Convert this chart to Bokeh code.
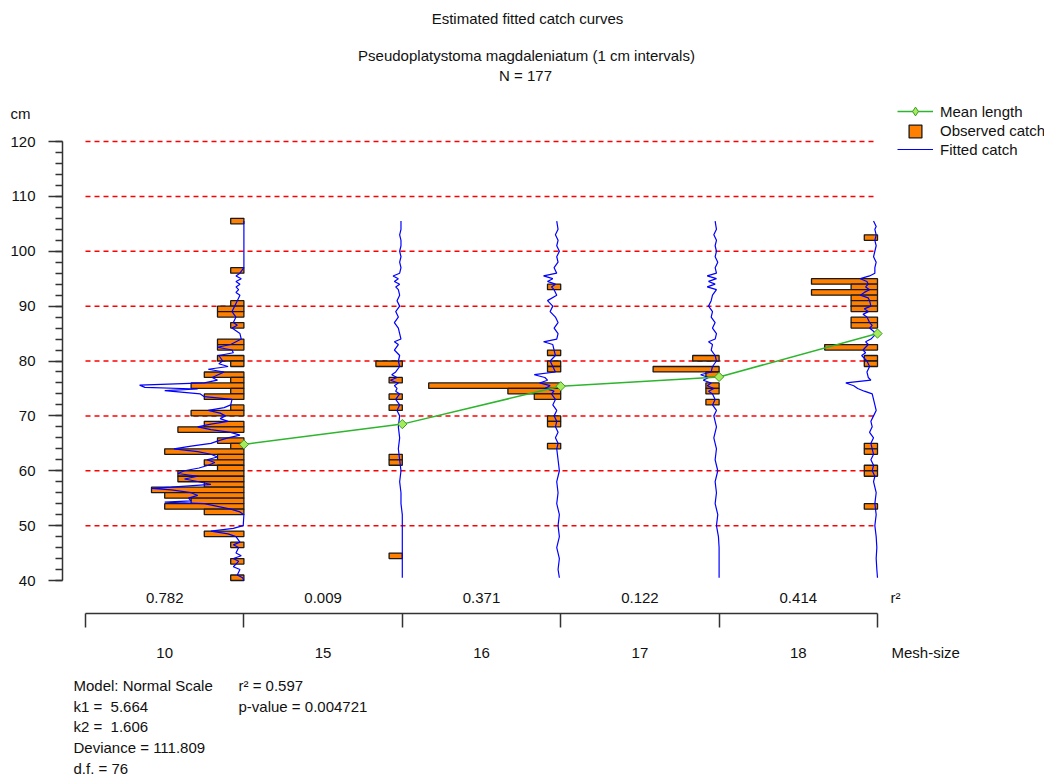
import numpy as np
import pandas as pd
from bokeh.plotting import figure
from bokeh.layouts import column
from bokeh.models import (ColumnDataSource, FixedTicker, Legend, LegendItem, Range1d)
from bokeh.core.properties import value
from bokeh.embed import file_html
from bokeh.resources import INLINE

# ---------------- data ----------------
mesh_sizes = [10, 15, 16, 17, 18]
r2_values = ["0.782", "0.009", "0.371", "0.122", "0.414"]
mean_lengths = [64.8, 68.5, 75.4, 77.1, 85.0]
grid_levels = [50, 60, 70, 80, 90, 100, 110, 120]
y_ticks = [40, 50, 60, 70, 80, 90, 100, 110, 120]

# observed catch: lower bound of 1 cm class and number of fish
obs10_len = [105, 96, 90, 89, 88, 86, 83, 82, 80, 79, 77, 76, 75, 74, 73, 71, 70, 68, 67,
             65, 64, 63, 62, 61, 60, 59, 58, 57, 56, 55, 54, 53, 52, 48, 46, 43, 40]
obs10_n = [1, 1, 1, 2, 2, 1, 2, 2, 2, 1, 3, 1, 4, 1, 3, 1, 4, 3, 5,
           2, 1, 6, 2, 3, 2, 5, 5, 3, 7, 6, 4, 6, 3, 3, 1, 1, 1]
obs15_len = [79, 76, 73, 71, 62, 61, 44]
obs15_n = [2, 1, 1, 1, 1, 1, 1]
obs16_len = [93, 81, 79, 78, 75, 74, 73, 69, 68, 64]
obs16_n = [1, 1, 1, 1, 10, 4, 2, 1, 1, 1]
obs17_len = [80, 78, 77, 75, 74, 72]
obs17_n = [2, 5, 1, 1, 1, 1]
obs18_len = [102, 94, 93, 92, 91, 90, 89, 87, 86, 82, 80, 79, 64, 63, 60, 59, 53]
obs18_n = [1, 5, 2, 5, 2, 2, 2, 2, 2, 4, 1, 1, 1, 1, 1, 1, 1]

# fitted catch curves (length, fitted number)
fit10_len = [105.5, 100, 97, 96, 95.5, 95, 94.5, 94, 93.5, 93,
             92.5, 92, 91, 90, 89, 88, 87, 86.5, 86, 85,
             84, 83, 82.5, 82, 81.5, 81, 80, 79.5, 79, 78.5,
             78, 77, 76.5, 76, 75.6, 75.2, 74.9, 74.6, 74, 73.5,
             73, 72, 71.5, 71, 70.5, 70, 69.5, 69, 68.5, 68,
             67.5, 67, 66.5, 66, 65.5, 65, 64.5, 64, 63.5, 63,
             62.5, 62, 61.5, 61, 60.5, 60, 59.5, 59, 58.5, 58,
             57.5, 57, 56.8, 56.5, 56, 55.5, 55, 54.5, 54.3, 54,
             53.5, 53, 52.5, 52, 50, 49.5, 49, 48.5, 48, 47,
             46.5, 46, 45, 44.5, 44, 43.5, 42.5, 42, 41, 40.5,
             40]
fit10_val = [0, 0, 0, 0.3, 0.6, 0.2, 0.6, 0.3, 0.6, 0.4,
             0.6, 0.3, 0.5, 0.7, 0.9, 0.6, 0.8, 0.5, 0.9, 0.3,
             0.2, 1.0, 2.0, 0.9, 0.8, 1.9, 1.6, 1.9, 1.2, 2.7,
             1.5, 2.4, 2.0, 3.0, 7.9, 7.5, 3.5, 6.0, 3.3, 3.0,
             0.9, 1.0, 1.5, 2.7, 1.8, 1.4, 1.8, 1.2, 2.5, 3.5,
             2.5, 1.0, 0.3, 1.2, 1.9, 2.5, 4.0, 5.3, 3.5, 2.5,
             2.0, 2.8, 2.2, 2.7, 3.4, 4.5, 5.0, 3.5, 4.5, 3.4,
             2.5, 5.5, 7.0, 5.5, 4.0, 3.5, 4.2, 4.0, 6.0, 3.0,
             2.0, 1.0, 0.3, 0, 0.05, 0.8, 2.5, 1.2, 0.6, 0.3,
             0.8, 0.4, 0.6, 0.2, 0.8, 0.4, 0.8, 0.3, 0.5, 0.1,
             0]
fit15_len = [105.5, 104, 103, 102, 101, 100, 99, 98, 97, 96,
             95.5, 95, 94.5, 94, 93.5, 93, 92, 91, 90, 89,
             88, 87, 86, 85, 84, 83.5, 83, 82, 81, 80,
             79, 78, 77.5, 77, 76.5, 76, 75.5, 75, 74.5, 74,
             73, 72, 71, 70, 68, 66, 64, 62, 60, 58,
             56, 54, 52, 50, 48, 46, 44, 42, 40.5]
fit15_val = [0.1, 0.1, 0.2, 0.1, 0.1, 0.2, 0.1, 0.2, 0.1, 0.2,
             0.7, 0.3, 0.6, 0.2, 0.5, 0.3, 0.2, 0.4, 0.2, 0.5,
             0.3, 0.6, 0.3, 0.2, 0.1, 0.6, 0.3, 0.6, 0.2, 0.3,
             0.2, 0.5, 0.8, 0.4, 0.9, 0.3, 0.6, 0.4, 0.5, 0.2,
             0.5, 0.2, 0.4, 0.2, 0.3, 0.2, 0.3, 0.2, 0.1, 0.2,
             0.1, 0.1, 0.0, 0.0, 0.0, 0.0, 0.0, 0.0, 0.0]
fit16_len = [105.5, 104, 103, 102, 101, 100, 99, 98, 97, 96,
             95.5, 95, 94.5, 94, 93.5, 93, 92, 91, 90, 89,
             88, 87, 86, 85, 84, 83.5, 83, 82, 81, 80,
             79, 78, 77.5, 77, 76.5, 76, 75.5, 75, 74.5, 74,
             73, 72, 71, 70, 69, 68, 67, 66, 65, 64,
             62, 60, 58, 56, 54, 52, 50, 48, 46, 44,
             42, 40.5]
fit16_val = [0.3, 0.2, 0.4, 0.2, 0.3, 0.1, 0.3, 0.2, 0.5, 0.3,
             1.3, 0.6, 1.0, 0.4, 0.7, 0.5, 0.3, 1.0, 0.6, 0.8,
             0.4, 0.2, 0.5, 0.2, 0.3, 1.3, 0.6, 0.5, 0.4, 0.8,
             0.6, 0.4, 2.0, 1.2, 1.0, 1.6, 0.8, 1.2, 0.5, 0.7,
             0.4, 0.6, 0.3, 0.5, 0.3, 0.4, 0.2, 0.4, 0.2, 0.3,
             0.2, 0.1, 0.3, 0.2, 0.3, 0.1, 0.2, 0.1, 0.3, 0.1,
             0.2, 0.1]
fit17_len = [105.5, 104, 103, 102, 101, 100, 99, 98, 97, 96,
             95.5, 95, 94.5, 94, 93.5, 93, 92, 91, 90, 89,
             88, 87, 86, 85, 84, 83.5, 83, 82, 81, 80,
             79, 78, 77.5, 77, 76.5, 76, 75.5, 75, 74.5, 74,
             73, 72, 71, 70, 68, 66, 64, 62, 60, 58,
             56, 54, 52, 50, 48, 46, 44, 42, 40.5]
fit17_val = [0.3, 0.2, 0.4, 0.2, 0.3, 0.2, 0.3, 0.1, 0.3, 0.2,
             0.9, 0.2, 0.8, 0.3, 0.9, 0.2, 0.5, 0.6, 0.8, 0.5,
             0.6, 0.3, 0.5, 0.2, 0.3, 0.8, 0.5, 0.6, 0.3, 0.2,
             0.5, 0.6, 1.4, 0.8, 1.2, 0.6, 0.9, 0.4, 0.8, 0.5,
             0.3, 0.5, 0.2, 0.4, 0.2, 0.4, 0.2, 0.3, 0.1, 0.3,
             0.2, 0.3, 0.1, 0.2, 0.05, 0.0, 0.0, 0.0, 0.0]
fit18_len = [105.5, 104.5, 104, 103, 102, 101, 100, 99, 98, 97,
             96, 95.5, 95, 94.5, 94, 93.5, 93, 92.5, 92, 91.5,
             91, 90, 89.5, 89, 88.5, 88, 87, 86.5, 86, 85,
             84, 83.5, 83, 82, 81.5, 81, 80, 79, 78, 77,
             76.5, 76, 75.5, 75, 74.5, 74, 73, 72, 71, 70,
             69, 68, 67, 66, 65, 64, 63, 62, 61, 60,
             59, 58, 56, 54, 52, 50, 48, 46, 44, 42,
             40.5]
fit18_val = [0.3, 0.1, 0.2, 0.1, 0.2, 0.1, 0.2, 0.3, 0.1, 0.2,
             0.2, 0.6, 1.3, 0.8, 0.7, 0.9, 0.6, 1.0, 1.3, 0.7,
             0.6, 0.5, 1.0, 0.7, 1.1, 0.8, 0.6, 0.4, 0.6, 0.1,
             0.5, 0.9, 0.7, 1.1, 0.9, 1.2, 0.8, 0.6, 0.8, 0.7,
             0.5, 2.4, 1.8, 1.5, 1.0, 0.4, 0.3, 0.2, 0.1, 0.3,
             0.5, 0.4, 0.6, 0.3, 0.5, 0.4, 0.3, 0.5, 0.3, 0.4,
             0.2, 0.3, 0.1, 0.2, 0.1, 0.2, 0.1, 0.05, 0.1, 0.05,
             0.0]

obs_lengths = [obs10_len, obs15_len, obs16_len, obs17_len, obs18_len]
obs_counts = [obs10_n, obs15_n, obs16_n, obs17_n, obs18_n]
fit_lengths = [fit10_len, fit15_len, fit16_len, fit17_len, fit18_len]
fit_values = [fit10_val, fit15_val, fit16_val, fit17_val, fit18_val]

titles = ["Estimated fitted catch curves",
          "Pseudoplatystoma magdaleniatum (1 cm intervals)", "N = 177"]
model_lines = ["Model: Normal Scale", "k1 = \u00a05.664", "k2 = \u00a01.606",
               "Deviance = 111.809", "d.f. = 76"]
stat_lines = ["r\u00b2 = 0.597", "p-value = 0.004721"]

# ---------------- layout constants ----------------
FONT = "Liberation Sans"
FS = "15px"
TXT = "#111111"
W = 1050
H_HEAD, H_MAIN, H_FOOT = 122, 511, 145      # page rows: 0-122, 122-633, 633-778
BL, BR, BB = 62, 6, 20
PX_X = 158.4        # px per mesh group
PX_Y = 5.4875       # px per cm
X0_PAGE = 85        # page px of x = 0
Y120_PAGE = 141     # page px of y = 120
FISH_W = 1 / 12.0   # group width units per fish
n_groups = len(mesh_sizes)


def dx(px):
    return (px - X0_PAGE) / PX_X


def dy(py):
    return 120 - (py - Y120_PAGE) / PX_Y


frame_w = W - BL - BR
x_start = dx(BL)
x_end = x_start + frame_w / PX_X


def strip(height, top):
    f = figure(width=W, height=height, x_range=Range1d(dx(0), dx(W)),
               y_range=Range1d(top + height, top), x_axis_type=None,
               y_axis_type=None, output_backend="svg", toolbar_location=None,
               min_border=0)
    f.outline_line_color = None
    try:
        f.frame_align = False
    except Exception:
        f.x_range = Range1d(x_start, x_end)
        f.min_border_left = BL
        f.min_border_right = BR
    return f


text_kw = dict(text_font=value(FONT), text_font_size=FS, text_color=TXT,
               text_baseline="middle")
leg_kw = dict(padding=0, margin=0, spacing=0, border_line_color=None,
              background_fill_alpha=0, label_text_font=FONT,
              label_text_font_size=FS, label_text_color=TXT)

green = "#2db52d"
blue = "#0000ff"
dfill, dline = "#a6ea5e", "#3c9a28"
nan = [np.nan]

# ---------------- header strip ----------------
head = strip(H_HEAD, 0)
head.text(x=[dx(527), dx(526), dx(525)], y=[18, 55, 75], text=titles,
          text_align="center", **text_kw)
head.text(x=[dx(20)], y=[113], text=["cm"], text_align="center", **text_kw)
hd_line = head.line(x=nan, y=nan, line_color=green, line_width=1.5)
hd_pts = head.scatter(x=nan, y=nan, size=7, marker="diamond", fill_color=dfill,
                      line_color=dline, line_width=1)
leg1 = Legend(items=[LegendItem(label="Mean length", renderers=[hd_line, hd_pts])],
              location=(897, 0), glyph_width=36, glyph_height=22,
              label_height=18, label_standoff=7, **leg_kw)
head.add_layout(leg1)

# ---------------- main plot ----------------
frame_h = H_MAIN - BB
y_end = dy(H_HEAD)
y_start = y_end - frame_h / PX_Y

p = figure(width=W, height=H_MAIN, x_range=Range1d(x_start, x_end),
           y_range=Range1d(y_start, y_end), output_backend="svg",
           toolbar_location=None, min_border_left=BL, min_border_right=BR,
           min_border_top=0, min_border_bottom=BB)
p.outline_line_color = None
p.xgrid.visible = False
p.ygrid.visible = False

yax = p.yaxis[0]
yax.ticker = FixedTicker(ticks=y_ticks, minor_ticks=list(range(40, 121, 2)))
yax.bounds = (40, 120)
yax.major_tick_out = 14
yax.major_tick_in = 0
yax.minor_tick_out = 7
yax.minor_tick_in = 0
for attr in ("axis_line", "major_tick_line", "minor_tick_line"):
    setattr(yax, attr + "_width", 1.5)
    setattr(yax, attr + "_color", "#333333")
yax.major_label_standoff = 13
yax.major_label_text_font = FONT
yax.major_label_text_font_size = FS
yax.major_label_text_color = TXT

xax = p.xaxis[0]
xax.ticker = FixedTicker(ticks=[], minor_ticks=list(range(n_groups + 1)))
xax.bounds = (0, n_groups)
xax.major_tick_out = 0
xax.major_tick_in = 0
xax.minor_tick_out = 14
xax.minor_tick_in = 0
for attr in ("axis_line", "minor_tick_line"):
    setattr(xax, attr + "_width", 1.5)
    setattr(xax, attr + "_color", "#333333")

# red dashed reference lines
p.segment(x0=[0] * len(grid_levels), x1=[n_groups] * len(grid_levels),
          y0=grid_levels, y1=grid_levels, line_color="#ff0000",
          line_dash="5 4", line_width=1.5)

# observed catch bars
rows = []
for gi, (lens, ns) in enumerate(zip(obs_lengths, obs_counts)):
    for L, n in zip(lens, ns):
        rows.append((gi, L, n))
df = pd.DataFrame(rows, columns=["group", "length", "count"])
df["y"] = df["length"] + 0.5
df["right"] = df["group"] + 1.0
df["left"] = df["right"] - df["count"] * FISH_W
bars = p.hbar(y="y", left="left", right="right", height=1.0,
              source=ColumnDataSource(df), fill_color="#ff8000",
              line_color="#1a1a1a", line_width=1.3)

# fitted catch lines
xs, ys = [], []
for gi, (lens, vals) in enumerate(zip(fit_lengths, fit_values)):
    n = min(len(lens), len(vals))
    xs.append([gi + 1 - v * FISH_W for v in vals[:n]])
    ys.append(list(lens[:n]))
p.multi_line(xs=xs, ys=ys, line_color=blue, line_width=1.2)
fit_key = p.line(x=nan, y=nan, line_color=blue, line_width=1.2)

# mean length
mx = [i + 1 for i in range(n_groups)]
p.line(x=mx, y=mean_lengths, line_color=green, line_width=1.5)
p.scatter(x=mx, y=mean_lengths, size=6.5, marker="square", angle=np.pi / 4,
          fill_color=dfill, line_color=dline, line_width=1)

# r² per mesh
centers = [i + 0.5 for i in range(n_groups)]
p.text(x=centers, y=[dy(597)] * n_groups, text=r2_values, text_align="center", **text_kw)
p.text(x=[dx(890)], y=[dy(597)], text=["r\u00b2"], text_align="left", **text_kw)

leg2 = Legend(items=[LegendItem(label="Observed catch", renderers=[bars])],
              location=(907 - BL, frame_h - (139 - H_HEAD)), glyph_width=16,
              glyph_height=16, label_height=16, label_standoff=17, **leg_kw)
leg3 = Legend(items=[LegendItem(label="Fitted catch", renderers=[fit_key])],
              location=(897 - BL, frame_h - (158 - H_HEAD)), glyph_width=36,
              glyph_height=18, label_height=18, label_standoff=7, **leg_kw)
p.add_layout(leg2)
p.add_layout(leg3)

# ---------------- footer strip ----------------
top_f = H_HEAD + H_MAIN
foot = strip(H_FOOT, top_f)
foot.text(x=centers, y=[652] * n_groups, text=[str(m) for m in mesh_sizes],
          text_align="center", **text_kw)
foot.text(x=[dx(891)], y=[652], text=["Mesh-size"], text_align="left", **text_kw)
foot.text(x=[dx(73)] * len(model_lines),
          y=[685 + i * 20.7 for i in range(len(model_lines))],
          text=model_lines, text_align="left", **text_kw)
foot.text(x=[dx(238)] * len(stat_lines),
          y=[685 + i * 20.7 for i in range(len(stat_lines))],
          text=stat_lines, text_align="left", **text_kw)

layout = column(head, p, foot, spacing=0)
open("out.html", "w").write(file_html(layout, INLINE))
